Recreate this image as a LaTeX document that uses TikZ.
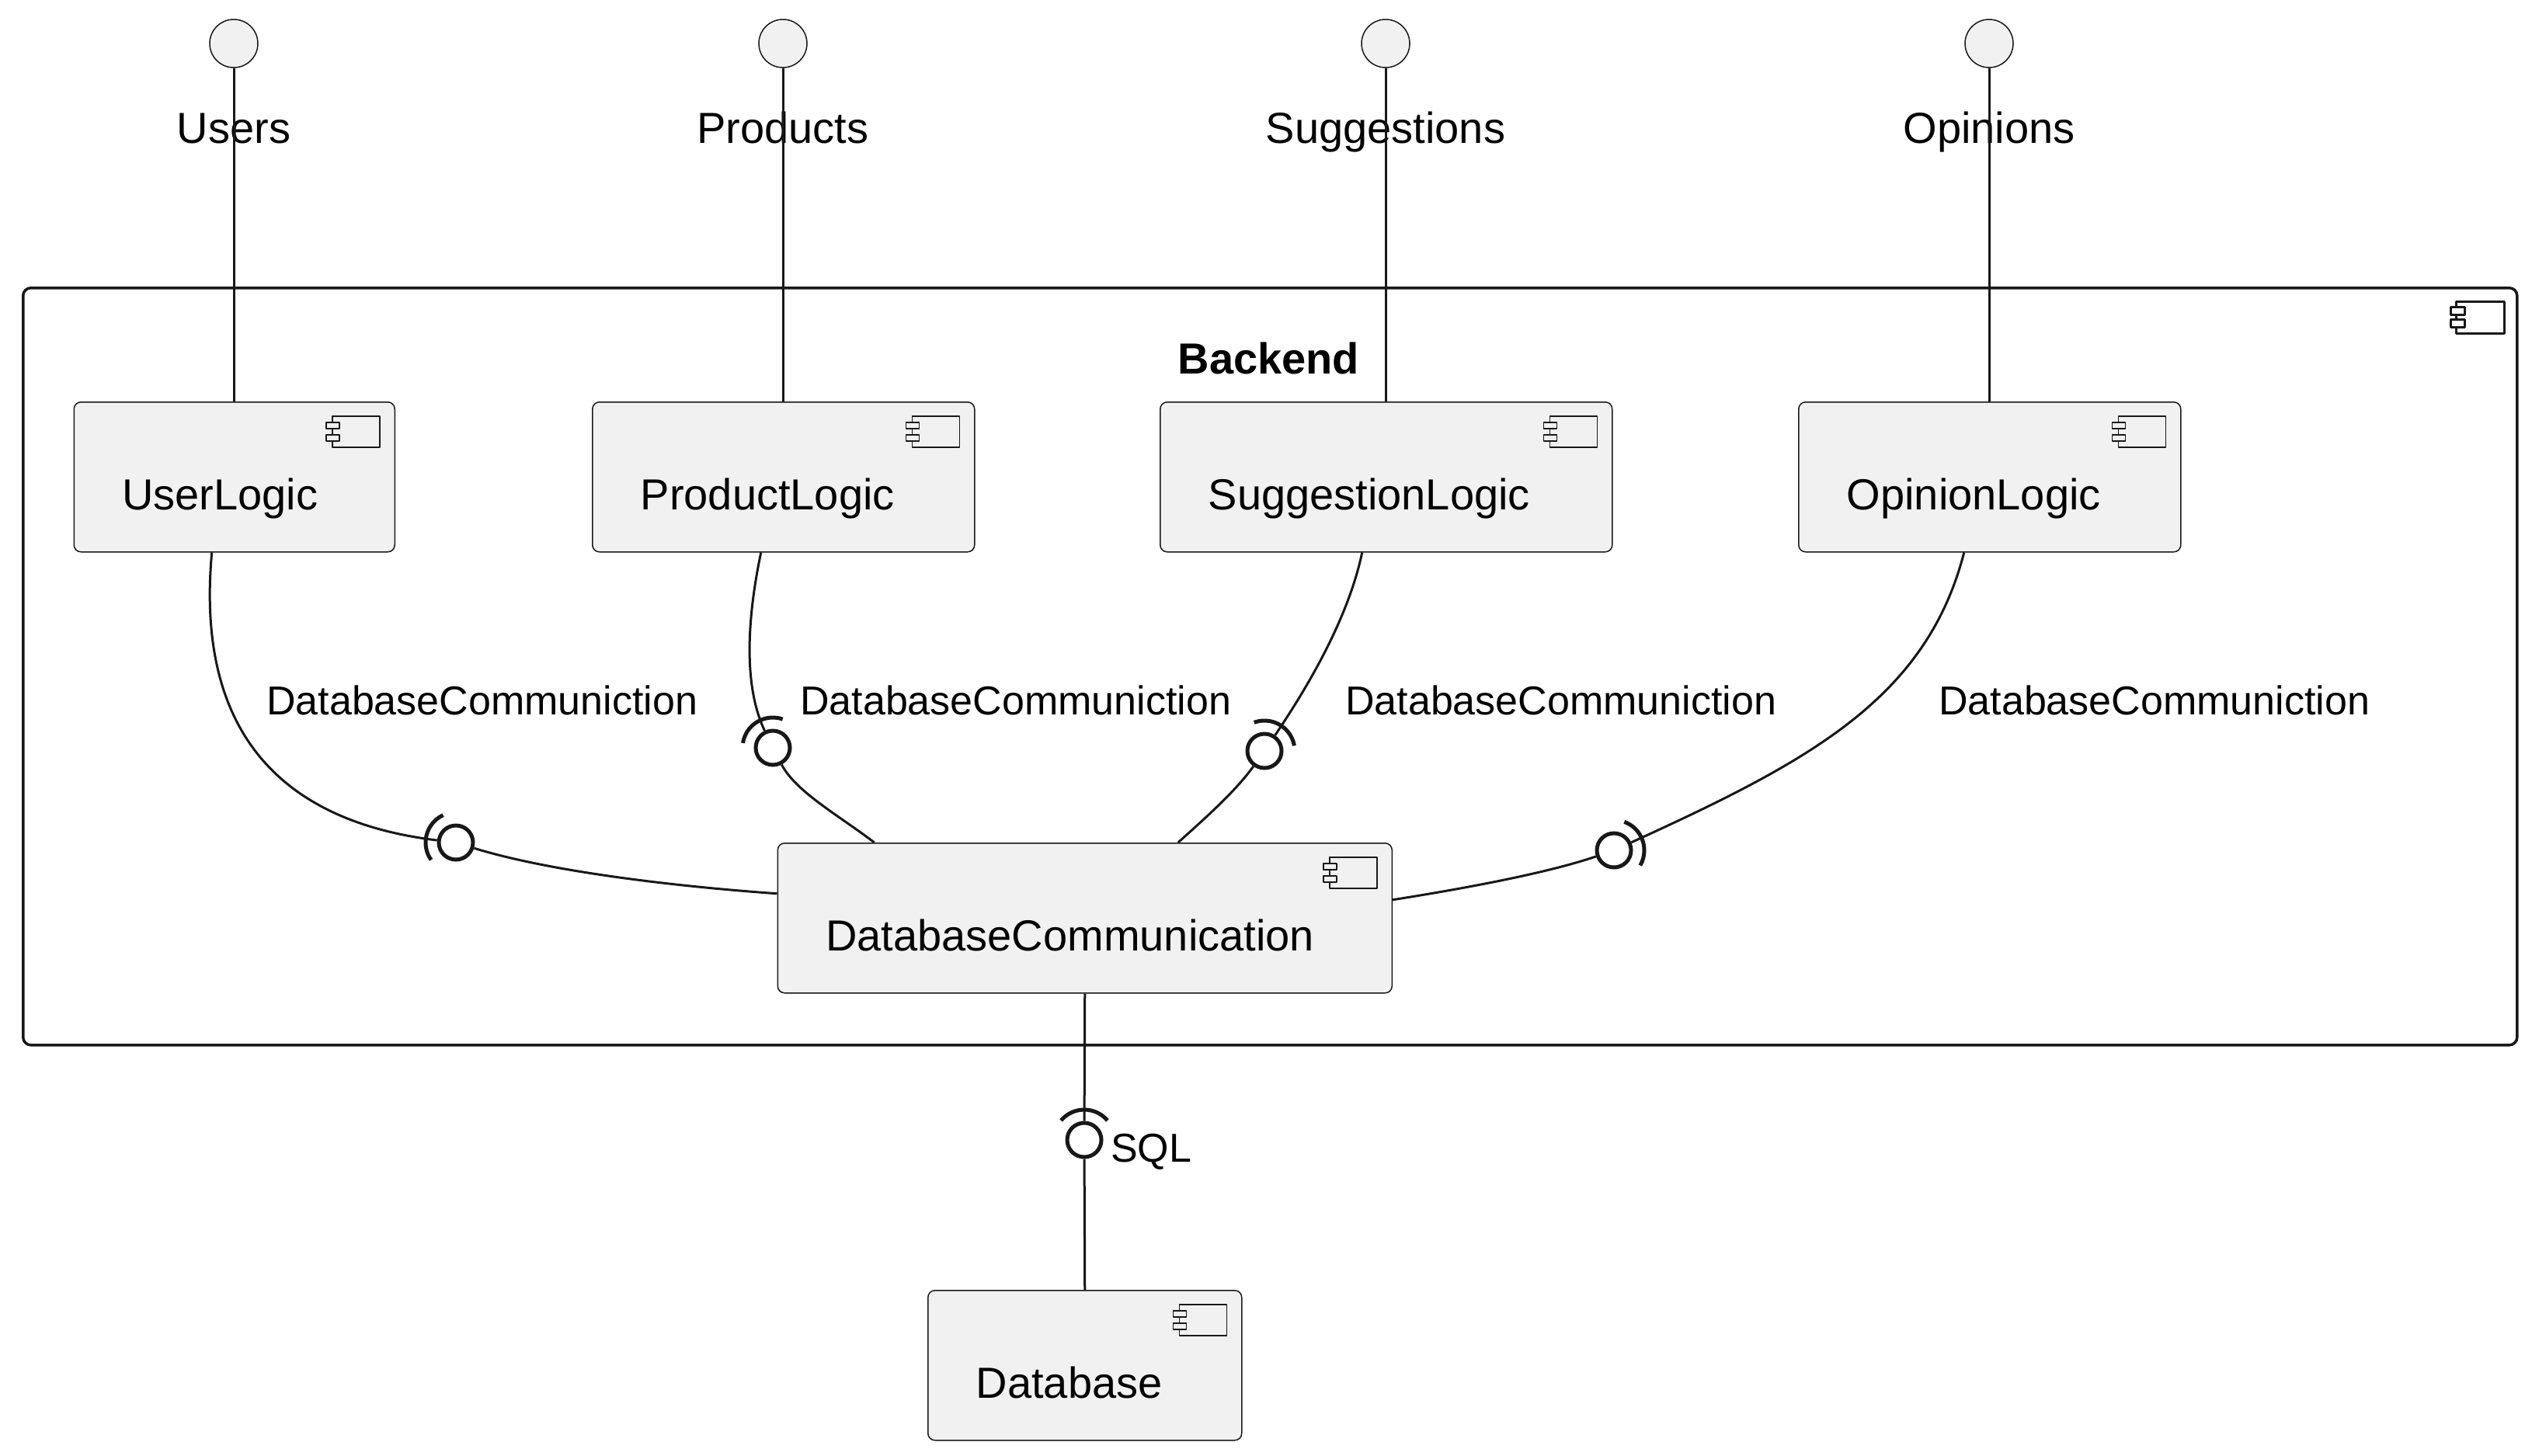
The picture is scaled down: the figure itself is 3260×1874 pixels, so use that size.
\documentclass[tikz,border=0pt]{standalone}
\usepackage{fontspec}
\setmainfont{Liberation Sans}
\usetikzlibrary{calc}
\definecolor{bd}{HTML}{181818}
\definecolor{bg}{HTML}{F1F1F1}
\tikzset{
  comp/.style={draw=bd, fill=bg, line width=1.5bp, rounded corners=9bp, anchor=north west,
    inner xsep=62bp, inner ysep=0pt, text height=139bp, text depth=54bp, align=left},
  iface/.style={circle, draw=bd, fill=bg, line width=1.5bp, minimum size=62bp, inner sep=0pt},
  ball/.style={circle, draw=bd, fill=white, line width=5bp, minimum size=44bp, inner sep=0pt},
  wire/.style={draw=bd, line width=3bp},
  sockst/.style={draw=bd, line width=5bp},
  iconst/.style={draw=bd, fill=bg, line width=1.5bp},
  ficon/.style={draw=bd, fill=white, line width=3bp},
  lbl/.style={anchor=base, inner sep=0pt},
  elbl/.style={font=\fontsize{52bp}{60bp}\selectfont, inner sep=0pt, anchor=base west},
  frame/.style={draw=bd, line width=3.5bp, rounded corners=10bp, inner sep=0pt, anchor=north west}
}
\newcommand\socketarc[2]{\draw[sockst] (#1) ++({50-(#2)}:39) arc[start angle={50-(#2)}, end angle={-50-(#2)}, radius=39];}
\newcommand\compicon[1]{%
  \draw[iconst] ($(#1.north east)+(-81,19)$) rectangle ++(61,40);
  \draw[iconst] ($(#1.north east)+(-89,27)$) rectangle ++(17,8);
  \draw[iconst] ($(#1.north east)+(-89,43)$) rectangle ++(17,8);}
\begin{document}
\begin{tikzpicture}[x=1bp, y=-1bp, font=\fontsize{56bp}{64bp}\selectfont, line join=round]
\fill[white] (0,0) rectangle (3260,1874);
\useasboundingbox (0,0) rectangle (3260,1874);

% Backend frame
\node[frame, minimum width=3211bp, minimum height=975bp] (be) at (28,369) {};
\node[lbl, font=\bfseries\fontsize{56bp}{64bp}\selectfont] (bet) at (1633.5,481) {Backend};
\draw[ficon] ($(be.north east)+(-80,19)$) rectangle ++(62,41);
\draw[ficon] ($(be.north east)+(-87,26)$) rectangle ++(18,10);
\draw[ficon] ($(be.north east)+(-87,42)$) rectangle ++(18,10);

% interface labels
\node[lbl] (lu) at (301,184) {Users};
\node[lbl] (lp) at (1008,184) {Products};
\node[lbl] (ls) at (1784,184) {Suggestions};
\node[lbl] (lo) at (2561,184) {Opinions};

% components
\node[comp, text width=289bp] (ul) at (94.5,517) {UserLogic};
\node[comp, text width=368bp] (pl) at (762,517) {ProductLogic};
\node[comp, text width=458bp] (sl) at (1493,517) {SuggestionLogic};
\node[comp, text width=368bp] (ol) at (2315,517) {OpinionLogic};
\node[comp, text width=667bp] (dbc) at (1000.5,1085) {DatabaseCommunication};
\node[comp, text width=280bp] (db) at (1194,1661) {Database};
\compicon{ul}
\compicon{pl}
\compicon{sl}
\compicon{ol}
\compicon{dbc}
\compicon{db}

% interfaces
\node[iface] (iu) at (301,56) {};
\node[iface] (ip) at (1008,56) {};
\node[iface] (is) at (1784,56) {};
\node[iface] (io) at (2561,56) {};
\draw[wire] (iu) -- (iu |- ul.north);
\draw[wire] (ip) -- (ip |- pl.north);
\draw[wire] (is) -- (is |- sl.north);
\draw[wire] (io) -- (io |- ol.north);

% balls
\node[ball] (b1) at (587,1085) {};
\node[ball] (b2) at (995,963) {};
\node[ball] (b3) at (1628,967) {};
\node[ball] (b4) at (2078,1095) {};
\node[ball] (b5) at (1396,1468) {};

% edges
\draw[wire] ($(ul.south)+(-29,0)$) .. controls (250,960) and (380,1060) .. (b1);
\draw[wire] (b1) .. controls (700,1120) and (850,1140) .. ($(dbc.west)+(0,-31.5)$);
\draw[wire] ($(pl.south)+(-29,0)$) .. controls (955,830) and (965,900) .. (b2);
\draw[wire] (b2) .. controls (1025,1020) and (1080,1050) .. ($(dbc.north)+(-271,0)$);
\draw[wire] ($(sl.south)+(-31,0)$) .. controls (1735,800) and (1680,890) .. (b3);
\draw[wire] (b3) .. controls (1590,1020) and (1550,1055) .. ($(dbc.north)+(120,0)$);
\draw[wire] ($(ol.south)+(-33,0)$) .. controls (2480,900) and (2330,980) .. (b4);
\draw[wire] (b4) .. controls (1990,1125) and (1880,1145) .. ($(dbc.east)+(0,-23.5)$);
\draw[wire] (dbc.south) -- (b5);
\draw[wire] (b5) -- (db.north);

% sockets
\socketarc{b1}{165}
\socketarc{b2}{121}
\socketarc{b3}{60}
\socketarc{b4}{20}
\socketarc{b5}{90}

% edge labels
\node[elbl] (e1) at (343,920) {DatabaseCommuniction};
\node[elbl] (e2) at (1030,920) {DatabaseCommuniction};
\node[elbl] (e3) at (1732,920) {DatabaseCommuniction};
\node[elbl] (e4) at (2496,920) {DatabaseCommuniction};
\node[elbl] (e5) at (1430,1496) {SQL};
\end{tikzpicture}
\end{document}
